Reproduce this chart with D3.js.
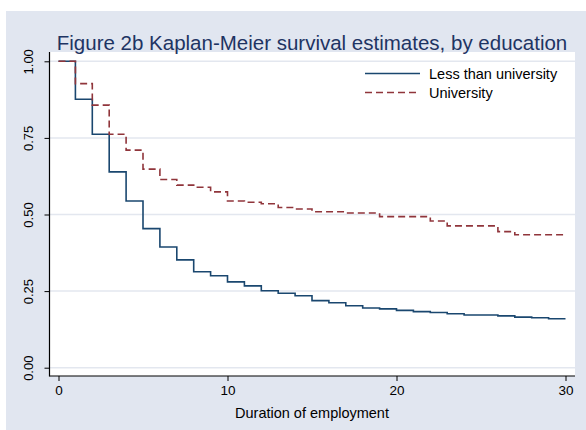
<!DOCTYPE html>
<html>
<head>
<meta charset="utf-8">
<script src="https://cdn.jsdelivr.net/npm/d3@7"></script>
<style>
  html, body { margin: 0; padding: 0; background: #ffffff; }
  svg { display: block; }
  text { font-family: "Liberation Sans", Arial, Helvetica, sans-serif; }
</style>
</head>
<body>
<svg id="chart" width="586" height="430"></svg>
<script>
// Survival times (duration of employment) at which the estimate is evaluated
const times = [0, 1, 2, 3, 4, 5, 6, 7, 8, 9, 10, 11, 12, 13, 14, 15, 16, 17, 18, 19, 20,
               21, 22, 23, 24, 25, 26, 27, 28, 29, 30];

// Kaplan-Meier survival estimates, one value per time point
const lessThanUniversity = [1.000, 0.876, 0.762, 0.639, 0.544, 0.454, 0.394, 0.352, 0.313, 0.300, 0.280,
                            0.267, 0.251, 0.243, 0.235, 0.219, 0.212, 0.202, 0.195, 0.192, 0.187,
                            0.183, 0.180, 0.176, 0.172, 0.172, 0.169, 0.165, 0.163, 0.160, 0.160];
const university = [1.000, 0.927, 0.857, 0.762, 0.710, 0.648, 0.614, 0.596, 0.589, 0.574, 0.544,
                    0.540, 0.535, 0.523, 0.518, 0.509, 0.509, 0.505, 0.505, 0.493, 0.493,
                    0.493, 0.479, 0.463, 0.463, 0.463, 0.444, 0.434, 0.434, 0.434, 0.434];

const seriesNames = ["Less than university", "University"];
const xTicks = [0, 10, 20, 30];
const yTicks = [0, 0.25, 0.5, 0.75, 1];
const yTickLabels = ["0.00", "0.25", "0.50", "0.75", "1.00"];

const titleText = "Figure 2b Kaplan-Meier survival estimates, by education";
const xTitle = "Duration of employment";

const svg = d3.select("#chart");
const W = 586, H = 430;
const bg = "#e1e6f0";
const gridColor = "#e3e7ef";
const navy = "#1a476f";
const maroon = "#90353b";

// Outer graph region
svg.append("rect").attr("x", 0).attr("y", 0).attr("width", W).attr("height", H).attr("fill", "#ffffff");
svg.append("rect").attr("x", 6).attr("y", 11).attr("width", W - 6).attr("height", H - 11).attr("fill", bg);

// Plot region
const plot = { left: 49.5, right: 575, top: 52, bottom: 376 };
svg.append("rect")
  .attr("x", plot.left).attr("y", plot.top)
  .attr("width", plot.right - plot.left).attr("height", plot.bottom - plot.top)
  .attr("fill", "#ffffff");

const x = d3.scaleLinear().domain([0, 30]).range([58.5, 565.5]);
const y = d3.scaleLinear().domain([0, 1]).range([367.7, 61.3]);

// Horizontal grid lines
svg.append("g").selectAll("line").data(yTicks).join("line")
  .attr("x1", plot.left).attr("x2", plot.right)
  .attr("y1", d => y(d)).attr("y2", d => y(d))
  .attr("stroke", gridColor).attr("stroke-width", 1.5);

// Axes
const yAxis = d3.axisLeft(y).tickValues(yTicks).tickFormat((d, i) => yTickLabels[i]).tickSize(5).tickSizeOuter(0);
const gy = svg.append("g").attr("transform", `translate(${plot.left},0)`).call(yAxis);
gy.select(".domain").remove();
gy.selectAll(".tick line").attr("stroke", "#000").attr("stroke-width", 1);
gy.selectAll(".tick text")
  .attr("font-size", 13).attr("fill", "#000")
  .attr("text-anchor", "middle")
  .attr("transform", "rotate(-90)")
  .attr("x", 0).attr("y", -17).attr("dy", 0);

const xAxis = d3.axisBottom(x).tickValues(xTicks).tickFormat(d3.format("d")).tickSize(5).tickSizeOuter(0);
const gx = svg.append("g").attr("transform", `translate(0,${plot.bottom})`).call(xAxis);
gx.select(".domain").remove();
gx.selectAll(".tick line").attr("stroke", "#000").attr("stroke-width", 1);
gx.selectAll(".tick text").attr("font-size", 13.5).attr("fill", "#000").attr("y", 19).attr("dy", 0);

// Axis lines (left and bottom)
svg.append("line").attr("x1", plot.left).attr("x2", plot.left).attr("y1", plot.top).attr("y2", plot.bottom + 0.5)
  .attr("stroke", "#000").attr("stroke-width", 1.2);
svg.append("line").attr("x1", plot.left).attr("x2", plot.right).attr("y1", plot.bottom).attr("y2", plot.bottom)
  .attr("stroke", "#000").attr("stroke-width", 1.2);

// Survival step curves
const line = d3.line()
  .x(d => x(d.t)).y(d => y(d.s))
  .curve(d3.curveStepAfter);

const series = [
  { name: seriesNames[0], values: lessThanUniversity, color: navy, dash: null },
  { name: seriesNames[1], values: university, color: maroon, dash: "7,4" }
];

series.forEach(s => {
  svg.append("path")
    .datum(times.map((t, i) => ({ t, s: s.values[i] })))
    .attr("d", line)
    .attr("fill", "none")
    .attr("stroke", s.color)
    .attr("stroke-width", 1.6)
    .attr("stroke-dasharray", s.dash);
});

// Legend
const legend = svg.append("g");
series.forEach((s, i) => {
  const ly = 73.5 + i * 19;
  legend.append("line")
    .attr("x1", 365).attr("x2", 420).attr("y1", ly).attr("y2", ly)
    .attr("stroke", s.color).attr("stroke-width", 1.6)
    .attr("stroke-dasharray", s.dash);
  legend.append("text")
    .attr("x", 429).attr("y", ly + 5)
    .attr("font-size", 14.5).attr("fill", "#000")
    .text(s.name);
});

// Titles
svg.append("text")
  .attr("x", 312).attr("y", 418)
  .attr("text-anchor", "middle").attr("font-size", 14.5).attr("fill", "#000")
  .text(xTitle);

svg.append("text")
  .attr("x", 312).attr("y", 50)
  .attr("text-anchor", "middle").attr("font-size", 20.5).attr("fill", "#1e3463")
  .text(titleText);
</script>
</body>
</html>
